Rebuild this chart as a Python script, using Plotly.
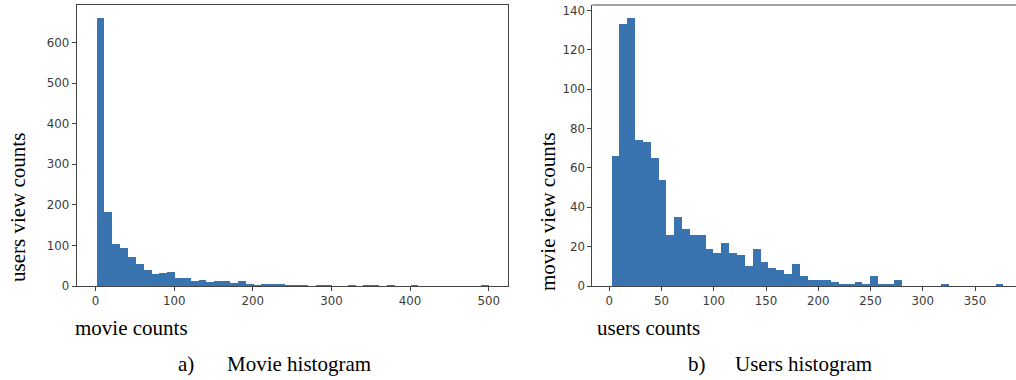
import numpy as np
import plotly.graph_objects as go

# ---- data ----
movie_bin_min, movie_bin_max = 1, 500
movie_counts = [660, 183, 103, 94, 72, 55, 40, 30, 33, 35,
                20, 19, 13, 16, 10, 12, 12, 7, 13, 6,
                2, 5, 5, 5, 2, 2, 2, 0, 2, 2,
                0, 0, 2, 0, 2, 2, 0, 2, 0, 0,
                2, 0, 0, 0, 0, 0, 0, 0, 0, 2]

user_bin_min, user_bin_max = 2.5, 377.5
user_counts = [66, 133, 136, 74, 73, 65, 54, 26, 35, 29,
               26, 26, 19, 17, 22, 17, 16, 10, 19, 12,
               9, 8, 6, 11, 5, 3, 3, 3, 2, 1,
               1, 2, 1, 5, 1, 1, 3, 0, 0, 0,
               0, 0, 1, 0, 0, 0, 0, 0, 0, 1]

movie_xticks = [0, 100, 200, 300, 400, 500]
movie_yticks = [0, 100, 200, 300, 400, 500, 600]
user_xticks = [0, 50, 100, 150, 200, 250, 300, 350]
user_yticks = [0, 20, 40, 60, 80, 100, 120, 140]

BAR = "#3a74b0"
AX = "#444444"
TICKF = dict(family="DejaVu Sans", size=11.8, color="#3a3a3a")
SERIF = "Liberation Serif"

W, H = 1016, 380


def bins(lo, hi, counts):
    edges = np.linspace(lo, hi, len(counts) + 1)
    centers = (edges[:-1] + edges[1:]) / 2
    return centers, edges[1] - edges[0]


mx, mw = bins(movie_bin_min, movie_bin_max, movie_counts)
ux, uw = bins(user_bin_min, user_bin_max, user_counts)

fig = go.Figure()
fig.add_trace(go.Bar(x=mx, y=movie_counts, width=mw, marker=dict(color=BAR, line=dict(width=0)),
                     xaxis="x", yaxis="y", showlegend=False))
fig.add_trace(go.Bar(x=ux, y=user_counts, width=uw, marker=dict(color=BAR, line=dict(width=0)),
                     xaxis="x2", yaxis="y2", showlegend=False))

ydom = [(H - 286) / H, (H - 5) / H]

mspan = movie_bin_max - movie_bin_min
uspan = user_bin_max - user_bin_min

common = dict(showline=True, linecolor=AX, linewidth=1, ticks="outside", ticklen=4,
              tickcolor=AX, tickwidth=1, showgrid=False, zeroline=False, tickfont=TICKF,
              automargin=False)

fig.update_layout(
    width=W, height=H, margin=dict(l=0, r=0, t=0, b=0),
    paper_bgcolor="white", plot_bgcolor="white", bargap=0,
    xaxis=dict(domain=[76.7 / W, 508.3 / W], anchor="y", mirror=True,
               range=[movie_bin_min - 0.05 * mspan, movie_bin_max + 0.05 * mspan],
               tickvals=movie_xticks, **common),
    yaxis=dict(domain=ydom, anchor="x", mirror=True,
               range=[0, max(movie_counts) * 1.05], tickvals=movie_yticks, **common),
    xaxis2=dict(domain=[592.3 / W, 1.0], anchor="y2",
                range=[user_bin_min - 0.05 * uspan, user_bin_min - 0.05 * uspan + (W - 592.3) / 1.045],
                tickvals=user_xticks, **common),
    yaxis2=dict(domain=ydom, anchor="x2",
                range=[0, max(user_counts) * 1.05], tickvals=user_yticks, **common),
)

# top spine of the cropped right panel
fig.add_shape(type="line", xref="paper", yref="paper", x0=592.3 / W, x1=1.0,
              y0=ydom[1], y1=ydom[1], line=dict(color=AX, width=1))


def label(text, x, y, angle=0, size=21):
    fig.add_annotation(text=text, x=x / W, y=(H - y) / H, xref="paper", yref="paper",
                       showarrow=False, textangle=angle, xanchor="center", yanchor="middle",
                       font=dict(family=SERIF, size=size, color="black"))


label("users view counts", 18, 208, angle=-90)
label("movie counts", 131, 328)
label("a)", 186, 364)
label("Movie histogram", 299, 364)
label("movie view counts", 548, 212, angle=-90)
label("users counts", 648, 328)
label("b)", 697, 364)
label("Users histogram", 803, 364)

fig.write_html("out.html", config={"displayModeBar": False},
               post_script="document.body.style.margin='0';document.body.style.overflow='hidden';")
